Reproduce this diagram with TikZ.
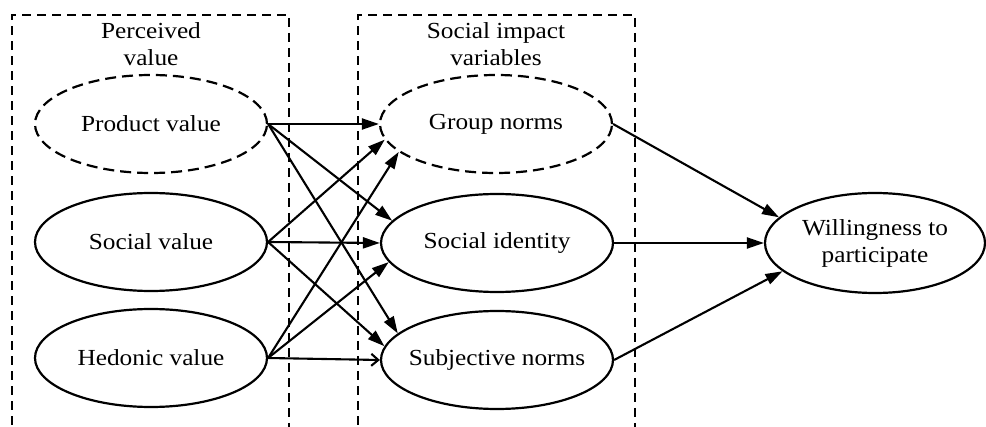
\documentclass[tikz,border=0pt]{standalone}
\usepackage{fontspec}
\setmainfont{Liberation Serif}[FakeStretch=1.1]
\usetikzlibrary{shapes.geometric,arrows.meta}
\begin{document}
\begin{tikzpicture}[x=1pt,y=-1pt,
  txt/.style={font=\fontsize{23}{27}\selectfont,align=center},
  var/.style={ellipse,draw,line width=2.2pt,minimum width=232pt,minimum height=98pt,inner xsep=-40pt,inner ysep=0pt,txt},
  latent/.style={var,dash pattern=on 11pt off 6pt},
  grp/.style={line width=1.6pt,dash pattern=on 9pt off 6pt},
  arr/.style={line width=2.1pt,-{Triangle[length=17pt,width=11pt]}},
  openarr/.style={line width=2.1pt,-{Straight Barb[length=7pt,width=12pt]}}
]
\useasboundingbox (0,0) rectangle (986,427);
% group boxes
\draw[grp] (12,440) -- (12,15) -- (289,15) -- (289,440);
\draw[grp] (358,440) -- (358,15) -- (635,15) -- (635,440);
\node[txt] (t1) at (151,44) {Perceived\\value};
\node[txt] (t2) at (496,44) {Social impact\\variables};
% nodes
\node[latent] (p) at (151,124) {Product value};
\node[var] (s) at (151,242) {Social value};
\node[var] (h) at (151,358) {Hedonic value};
\node[latent] (g) at (496,124) {Group norms};
\node[var] (si) at (497,243) {Social identity};
\node[var] (sn) at (497,360) {Subjective norms};
\node[var,minimum width=220pt,minimum height=100pt] (w) at (875,243) {Willingness to\\participate};
% connectors
\draw[arr] (p.east) -- (g.west);
\draw[arr] (p.east) -- (si.168);
\draw[arr] (p.east) -- (sn.165);
\draw[arr] (s.east) -- (g.188);
\draw[arr] (s.east) -- (si.west);
\draw[arr] (s.east) -- (sn.173);
\draw[arr] (h.east) -- (g.196);
\draw[arr] (h.east) -- (si.190);
\draw[openarr] (h.east) -- (sn.west);
\draw[arr] (g.east) -- (w.165);
\draw[arr] (si.east) -- (w.west);
\draw[arr] (sn.east) -- (w.197);
\end{tikzpicture}
\end{document}
